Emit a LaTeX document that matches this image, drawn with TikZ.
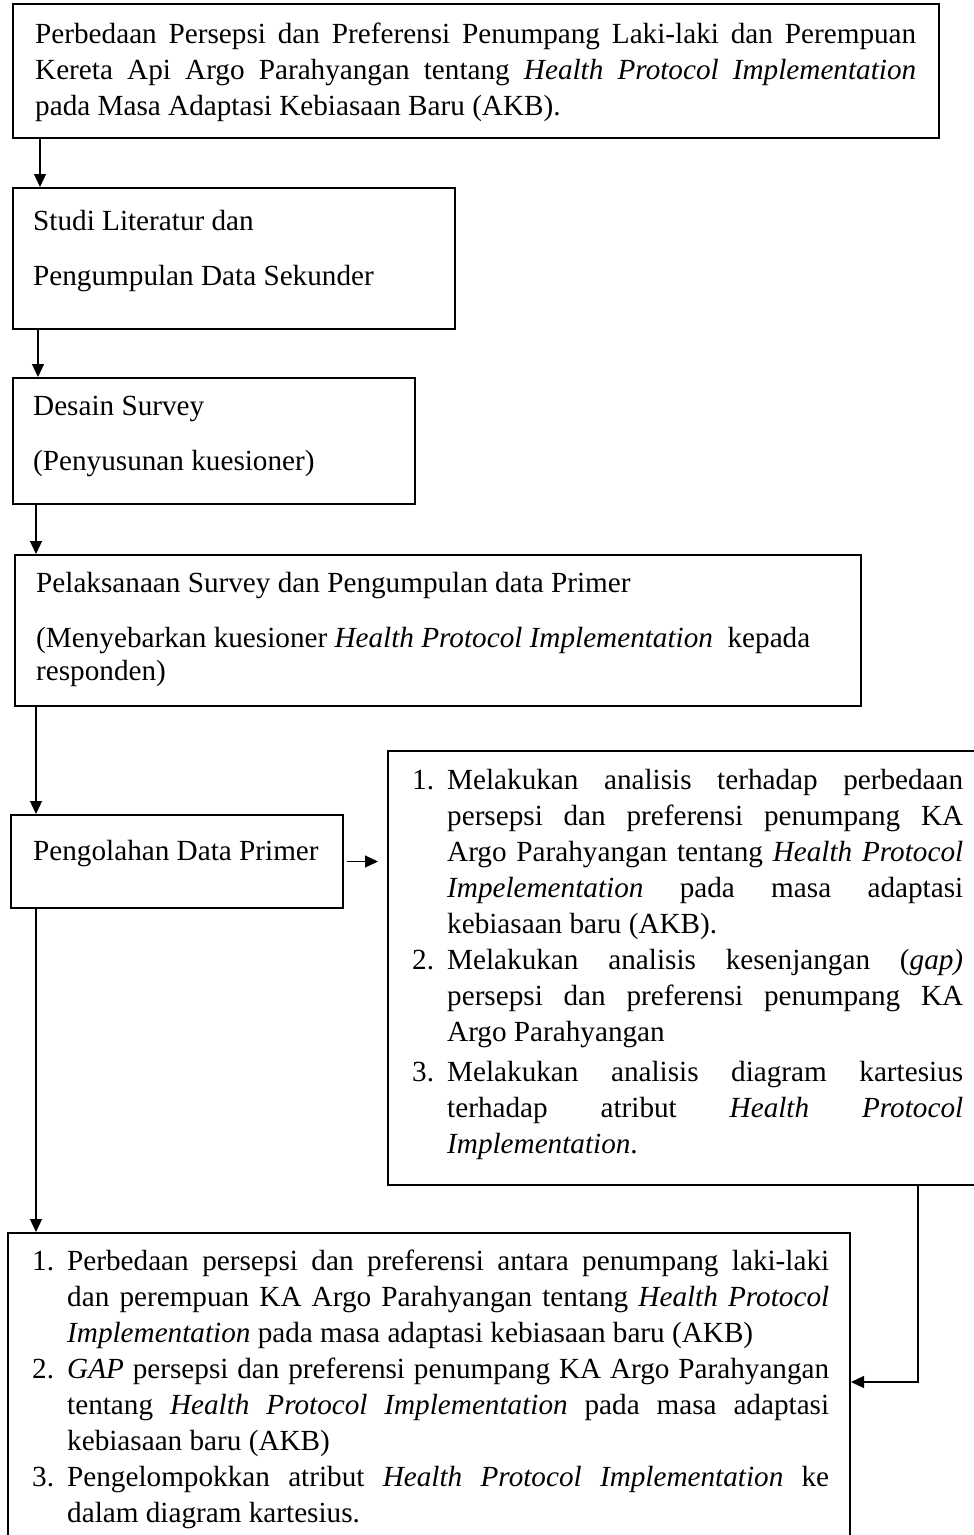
\documentclass[tikz,border=0pt]{standalone}
\usepackage{fontspec}
\setmainfont{Liberation Serif}
\usetikzlibrary{arrows.meta}

\newcommand{\lnum}[1]{\makebox[35pt][l]{#1}}
\newcommand{\indnt}{\hspace*{35pt}}
\newcommand{\jline}[2]{{\spaceskip=0pt\xspaceskip=0pt\makebox[#1][s]{#2}}}

\begin{document}
\begin{tikzpicture}[x=1pt,y=-1pt,
  box/.style={draw,line width=2pt,anchor=north west,inner sep=0pt},
  txt/.style={anchor=base west,inner sep=0pt,align=justify,font=\fontsize{29.2}{36}\selectfont},
  arr/.style={line width=1.2pt,-{Triangle[length=13pt,width=12pt]}}]

  \clip (0,0) rectangle (974,1535);

  % kotak
  \node[box,minimum width=926pt,minimum height=134pt] (1) at (12,3) {};
  \node[box,minimum width=442pt,minimum height=141pt] (2) at (12,187) {};
  \node[box,minimum width=402pt,minimum height=126pt] (3) at (12,377) {};
  \node[box,minimum width=846pt,minimum height=151pt] (4) at (14,554) {};
  \node[box,minimum width=332pt,minimum height=93pt] (5) at (10,814) {};
  \node[box,minimum width=587pt,minimum height=434pt] (6) at (387,750) {};
  \node[box,minimum width=842pt,minimum height=313pt] (7) at (7,1232) {};

  % teks
  \node[txt,text width=881pt] (t1) at (35,43) {%
    \jline{881pt}{Perbedaan Persepsi dan Preferensi Penumpang Laki-laki dan Perempuan}\\
    \jline{881pt}{Kereta Api Argo Parahyangan tentang \textit{Health Protocol Implementation}}\\
    pada Masa Adaptasi Kebiasaan Baru (AKB).};
  \node[txt,text width=400pt] (t2) at (33,230) {Studi Literatur dan\\[19pt]
    Pengumpulan Data Sekunder};
  \node[txt,text width=370pt] (t3) at (33,415) {Desain Survey\\[19pt]
    (Penyusunan kuesioner)};
  \node[txt,text width=810pt] (t4) at (36,592) {Pelaksanaan Survey dan Pengumpulan data Primer\\[19pt]
    (Menyebarkan kuesioner \textit{Health Protocol Implementation}\ \ kepada\\[-3pt]
    responden)};
  \node[txt,text width=300pt] (t5) at (33,860) {Pengolahan Data Primer};
  \node[txt,text width=551pt] (t6) at (412,789) {%
    \lnum{1.}\jline{516pt}{Melakukan analisis terhadap perbedaan}\\
    \indnt\jline{516pt}{persepsi dan preferensi penumpang KA}\\
    \indnt\jline{516pt}{Argo Parahyangan tentang \textit{Health Protocol}}\\
    \indnt\jline{516pt}{\textit{Impelementation} pada masa adaptasi}\\
    \indnt kebiasaan baru (AKB).\\
    \lnum{2.}\jline{516pt}{Melakukan analisis kesenjangan (\textit{gap)}}\\
    \indnt\jline{516pt}{persepsi dan preferensi penumpang KA}\\
    \indnt Argo Parahyangan\\[4pt]
    \lnum{3.}\jline{516pt}{Melakukan analisis diagram kartesius}\\
    \indnt\jline{516pt}{terhadap atribut \textit{Health Protocol}}\\
    \indnt\textit{Implementation}.};
  \node[txt,text width=797pt] (t7) at (32,1270) {%
    \lnum{1.}\jline{762pt}{Perbedaan persepsi dan preferensi antara penumpang laki-laki}\\
    \indnt\jline{762pt}{dan perempuan KA Argo Parahyangan tentang \textit{Health Protocol}}\\
    \indnt\textit{Implementation} pada masa adaptasi kebiasaan baru (AKB)\\
    \lnum{2.}\jline{762pt}{\textit{GAP} persepsi dan preferensi penumpang KA Argo Parahyangan}\\
    \indnt\jline{762pt}{tentang \textit{Health Protocol Implementation} pada masa adaptasi}\\
    \indnt kebiasaan baru (AKB)\\
    \lnum{3.}\jline{762pt}{Pengelompokkan atribut \textit{Health Protocol Implementation} ke}\\
    \indnt dalam diagram kartesius.};

  % panah
  \coordinate (k) at (918,1382);
  \draw[arr] ([xshift=28pt]1.south west) -- ([xshift=28pt]2.north west);
  \draw[arr] ([xshift=26pt]2.south west) -- ([xshift=26pt]3.north west);
  \draw[arr] ([xshift=24pt]3.south west) -- ([xshift=22pt]4.north west);
  \draw[arr] ([xshift=22pt]4.south west) -- ([xshift=26pt]5.north west);
  \draw[arr] ([xshift=3pt]5.east) -- ([xshift=-9pt]6.west |- 5.east);
  \draw[arr] ([xshift=26pt]5.south west) -- ([xshift=29pt]7.north west);
  \draw[arr] ([xshift=531pt]6.south west) -- (k) -- (7.east |- k);

\end{tikzpicture}
\end{document}
